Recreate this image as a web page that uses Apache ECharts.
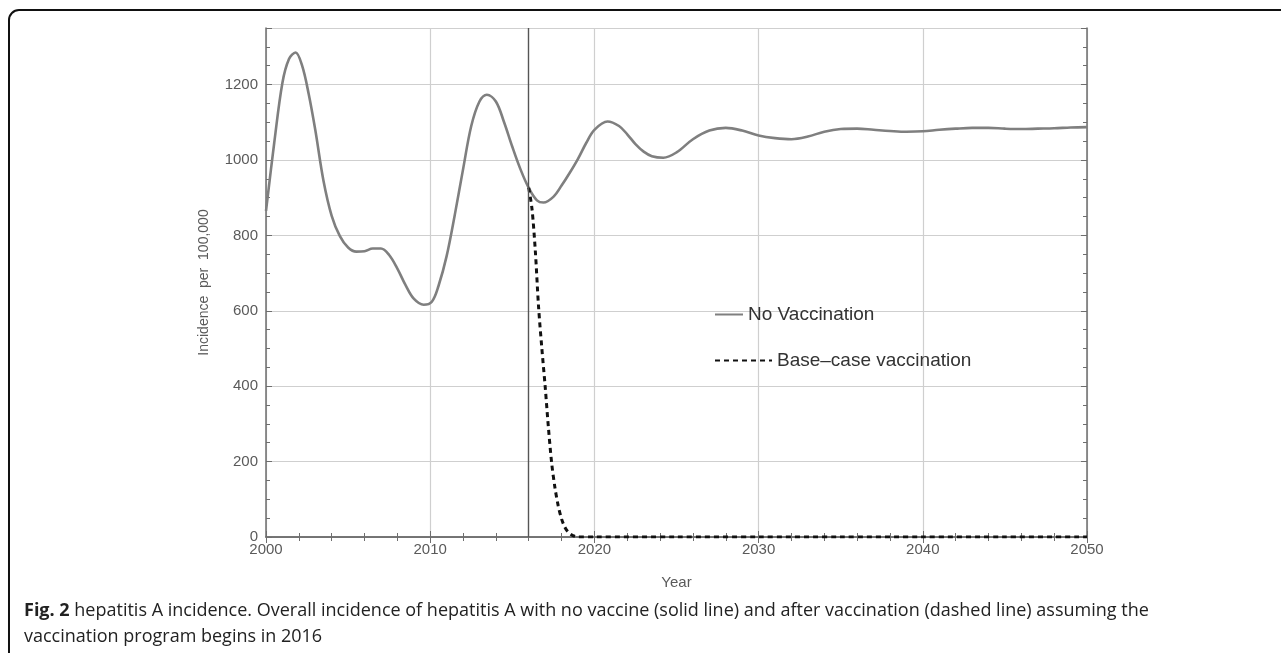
<!DOCTYPE html>
<html>
<head>
<meta charset="utf-8">
<script src="https://cdn.jsdelivr.net/npm/echarts@6/dist/echarts.min.js"></script>
<style>
  html, body { margin: 0; padding: 0; background: #fff; }
  #chart { width: 1281px; height: 653px; }
</style>
</head>
<body>
<div id="chart"></div>
<script>
// years / values
var noVacYears = [2000, 2000.5, 2001, 2001.4, 2001.8, 2002.2, 2002.6, 2003, 2003.5, 2004, 2004.5,
  2005, 2005.5, 2006, 2006.5, 2007, 2007.5, 2008, 2008.5, 2009, 2009.6, 2010.1, 2010.5,
  2011, 2011.5, 2012, 2012.5, 2013, 2013.45, 2014, 2014.5, 2015, 2015.5, 2016, 2016.5,
  2016.9, 2017.5, 2018, 2018.5, 2019, 2019.5, 2020, 2020.8, 2021.5, 2022, 2022.5,
  2023, 2023.5, 2024.2, 2025, 2026, 2027, 2028, 2029, 2030, 2031, 2032,
  2033, 2034, 2035, 2036, 2037, 2038, 2039, 2040, 2041, 2042, 2043, 2044, 2045, 2046,
  2047, 2048, 2049, 2050];
var noVacValues = [865, 1045, 1205, 1268, 1285, 1250, 1175, 1080, 945, 852, 798,
  768, 757, 758, 765, 765, 748, 712, 668, 632, 616, 624, 665,
  745, 855, 975, 1090, 1155, 1173, 1155, 1100, 1035, 975, 926, 893,
  887, 902, 932, 966, 1003, 1045, 1080, 1102, 1090, 1068, 1042,
  1022, 1010, 1006, 1020, 1055, 1078, 1085, 1078, 1065, 1058, 1055,
  1062, 1075, 1082, 1083, 1080, 1077, 1075, 1076, 1080, 1083, 1085, 1085, 1083, 1082,
  1083, 1084, 1086, 1087];

var vacYears = [2016, 2016.2, 2016.4, 2016.6, 2016.8, 2017, 2017.2, 2017.4, 2017.6, 2017.8,
  2018, 2018.2, 2018.4, 2018.6, 2018.8, 2019, 2020, 2025, 2030, 2035, 2040, 2045, 2050];
var vacValues = [926, 870, 760, 610, 500, 400, 290, 195, 130, 82,
  48, 26, 13, 6, 2, 0, 0, 0, 0, 0, 0, 0, 0];

var vaccineStart = 2016;
var seriesNames = ['No Vaccination', 'Base\u2013case vaccination'];

function pairs(xs, ys) {
  return xs.map(function (x, i) { return [x, ys[i]]; });
}

var chart = echarts.init(document.getElementById('chart'));

var axisCol = '#6e6e6e';
var fontFam = 'Liberation Sans, Arial, sans-serif';
var labelStyle = { color: '#5a5a5a', fontSize: 15, fontFamily: fontFam };
function plain(v) { return String(v); }

var legendText = { color: '#333', fontSize: 19, fontFamily: fontFam };

var option = {
  animation: false,
  backgroundColor: '#fff',
  grid: { left: 266, right: 194, top: 28, bottom: 116 },
  legend: [{
    left: 709, top: 300, itemWidth: 28, itemHeight: 16, itemStyle: { opacity: 0 },
    textStyle: legendText, data: [seriesNames[0]]
  }, {
    left: 709, top: 346, itemWidth: 57, itemHeight: 16, itemStyle: { opacity: 0 },
    textStyle: legendText, data: [seriesNames[1]]
  }],
  xAxis: [{
    type: 'value', min: 2000, max: 2050, interval: 10,
    name: 'Year', nameLocation: 'middle', nameGap: 38,
    nameTextStyle: labelStyle,
    axisLine: { show: true, onZero: false, lineStyle: { color: axisCol, width: 1.5 } },
    axisTick: { show: true, inside: true, length: 6, lineStyle: { color: axisCol } },
    minorTick: { show: true, splitNumber: 5, length: 4, lineStyle: { color: axisCol } },
    axisLabel: Object.assign({ margin: 5, formatter: plain }, labelStyle),
    splitLine: { show: true, lineStyle: { color: '#cfcfcf', width: 1.2 } }
  }, {
    type: 'value', min: 2000, max: 2050, interval: 10, position: 'top',
    axisLine: { show: true, lineStyle: { color: axisCol, width: 1.5 } },
    axisTick: { show: true, inside: true, length: 6, lineStyle: { color: axisCol } },
    minorTick: { show: true, splitNumber: 5, length: 4, lineStyle: { color: axisCol } },
    axisLabel: { show: false }, splitLine: { show: false }
  }],
  yAxis: [{
    type: 'value', min: 0, max: 1350, interval: 200,
    name: 'Incidence  per  100,000', nameLocation: 'middle', nameGap: 55,
    nameTextStyle: Object.assign({}, labelStyle, { fontSize: 14 }),
    axisLine: { show: true, lineStyle: { color: axisCol, width: 1.5 } },
    axisTick: { show: true, inside: true, length: 6, lineStyle: { color: axisCol } },
    minorTick: { show: true, splitNumber: 4, length: 4, lineStyle: { color: axisCol } },
    axisLabel: Object.assign({ margin: 8, showMaxLabel: false, formatter: plain }, labelStyle),
    splitLine: { show: true, lineStyle: { color: '#cfcfcf', width: 1.2 } }
  }, {
    type: 'value', min: 0, max: 1350, interval: 200, position: 'right',
    axisLine: { show: true, lineStyle: { color: axisCol, width: 1.5 } },
    axisTick: { show: true, inside: true, length: 6, lineStyle: { color: axisCol } },
    minorTick: { show: true, splitNumber: 4, length: 4, lineStyle: { color: axisCol } },
    axisLabel: { show: false }, splitLine: { show: false }
  }],
  series: [{
    name: seriesNames[0], type: 'line', smooth: 0.35, symbol: 'none',
    data: pairs(noVacYears, noVacValues),
    lineStyle: { color: '#7f7f7f', width: 2.6 },
    itemStyle: { color: '#7f7f7f' },
    markLine: {
      silent: true, symbol: 'none', label: { show: false },
      lineStyle: { color: '#555', width: 1.4, type: 'solid' },
      data: [{ xAxis: vaccineStart }]
    },
    z: 3
  }, {
    name: seriesNames[1], type: 'line', smooth: 0.3, symbol: 'none',
    data: pairs(vacYears, vacValues),
    lineStyle: { color: '#111', width: 3, type: [5, 4] },
    itemStyle: { color: '#111' },
    z: 4
  }],
  graphic: [
    {
      type: 'rect', silent: true,
      shape: { x: 9, y: 10, width: 1400, height: 700, r: 10 },
      style: { fill: 'none', stroke: '#111', lineWidth: 2 }
    },
    {
      type: 'text', left: 24, top: 598,
      style: {
        text: '{b|Fig. 2} hepatitis A incidence. Overall incidence of hepatitis A with no vaccine (solid line) and after vaccination (dashed line) assuming the\nvaccination program begins in 2016',
        fill: '#222', fontSize: 18, fontFamily: '"Open Sans", sans-serif', lineHeight: 26,
        rich: { b: { fontWeight: 'bold', fontSize: 18, fontFamily: '"Open Sans", sans-serif', fill: '#222', lineHeight: 26 } }
      }
    }
  ]
};

chart.setOption(option);
</script>
</body>
</html>
